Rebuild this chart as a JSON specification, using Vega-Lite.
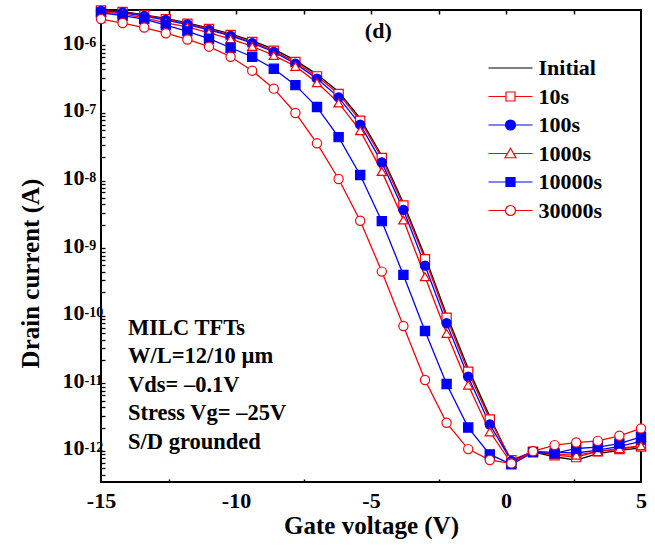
{
  "$schema": "https://vega.github.io/schema/vega-lite/v6.json",
  "autosize": {"type": "none"},
  "padding": {"left": 101, "top": 10, "right": 14, "bottom": 65},
  "width": 540,
  "height": 472,
  "background": "white",
  "config": {
    "view": {"stroke": "black", "strokeWidth": 2},
    "axis": {"domain": false, "grid": false, "labelFont": "Liberation Serif", "labelFontWeight": "bold", "labelColor": "black", "titleFont": "Liberation Serif", "titleFontWeight": "bold", "titleColor": "black", "labelFlush": false, "labelOverlap": false}
  },
  "datasets": {
    "d": [
      {"s":"Initial","v":-15,"i":3.0e-6},{"s":"Initial","v":-14.2,"i":2.85e-6},{"s":"Initial","v":-13.4,"i":2.55e-6},{"s":"Initial","v":-12.6,"i":2.25e-6},{"s":"Initial","v":-11.8,"i":1.93e-6},{"s":"Initial","v":-11,"i":1.62e-6},{"s":"Initial","v":-10.2,"i":1.33e-6},{"s":"Initial","v":-9.4,"i":1.05e-6},{"s":"Initial","v":-8.6,"i":7.9e-7},{"s":"Initial","v":-7.8,"i":5.4e-7},{"s":"Initial","v":-7,"i":3.35e-7},{"s":"Initial","v":-6.2,"i":1.85e-7},{"s":"Initial","v":-5.4,"i":7.5e-8},{"s":"Initial","v":-4.6,"i":2.1e-8},{"s":"Initial","v":-3.8,"i":4.2e-9},{"s":"Initial","v":-3,"i":6.8e-10},{"s":"Initial","v":-2.2,"i":9.3e-11},{"s":"Initial","v":-1.4,"i":1.5e-11},{"s":"Initial","v":-0.6,"i":2.9e-12},{"s":"Initial","v":0.2,"i":6.1e-13},{"s":"Initial","v":1,"i":8.7e-13},{"s":"Initial","v":1.8,"i":7.4e-13},{"s":"Initial","v":2.6,"i":6.6e-13},{"s":"Initial","v":3.4,"i":8.2e-13},{"s":"Initial","v":4.2,"i":9.2e-13},{"s":"Initial","v":5,"i":1.0e-12},
      {"s":"10s","v":-15,"i":2.95e-6},{"s":"10s","v":-14.2,"i":2.8e-6},{"s":"10s","v":-13.4,"i":2.5e-6},{"s":"10s","v":-12.6,"i":2.2e-6},{"s":"10s","v":-11.8,"i":1.88e-6},{"s":"10s","v":-11,"i":1.57e-6},{"s":"10s","v":-10.2,"i":1.28e-6},{"s":"10s","v":-9.4,"i":1.01e-6},{"s":"10s","v":-8.6,"i":7.5e-7},{"s":"10s","v":-7.8,"i":5.1e-7},{"s":"10s","v":-7,"i":3.13e-7},{"s":"10s","v":-6.2,"i":1.72e-7},{"s":"10s","v":-5.4,"i":6.92e-8},{"s":"10s","v":-4.6,"i":1.94e-8},{"s":"10s","v":-3.8,"i":3.85e-9},{"s":"10s","v":-3,"i":6.18e-10},{"s":"10s","v":-2.2,"i":8.4e-11},{"s":"10s","v":-1.4,"i":1.34e-11},{"s":"10s","v":-0.6,"i":2.64e-12},{"s":"10s","v":0.2,"i":6.6e-13},{"s":"10s","v":1,"i":8.8e-13},{"s":"10s","v":1.8,"i":7.8e-13},{"s":"10s","v":2.6,"i":7.3e-13},{"s":"10s","v":3.4,"i":8.9e-13},{"s":"10s","v":4.2,"i":9.6e-13},{"s":"10s","v":5,"i":1.05e-12},
      {"s":"100s","v":-15,"i":2.9e-6},{"s":"100s","v":-14.2,"i":2.75e-6},{"s":"100s","v":-13.4,"i":2.44e-6},{"s":"100s","v":-12.6,"i":2.13e-6},{"s":"100s","v":-11.8,"i":1.83e-6},{"s":"100s","v":-11,"i":1.52e-6},{"s":"100s","v":-10.2,"i":1.24e-6},{"s":"100s","v":-9.4,"i":9.7e-7},{"s":"100s","v":-8.6,"i":7.2e-7},{"s":"100s","v":-7.8,"i":4.83e-7},{"s":"100s","v":-7,"i":2.9e-7},{"s":"100s","v":-6.2,"i":1.53e-7},{"s":"100s","v":-5.4,"i":6.04e-8},{"s":"100s","v":-4.6,"i":1.67e-8},{"s":"100s","v":-3.8,"i":3.32e-9},{"s":"100s","v":-3,"i":4.97e-10},{"s":"100s","v":-2.2,"i":6.97e-11},{"s":"100s","v":-1.4,"i":1.13e-11},{"s":"100s","v":-0.6,"i":2.22e-12},{"s":"100s","v":0.2,"i":6.4e-13},{"s":"100s","v":1,"i":8.9e-13},{"s":"100s","v":1.8,"i":8.6e-13},{"s":"100s","v":2.6,"i":8.4e-13},{"s":"100s","v":3.4,"i":9.3e-13},{"s":"100s","v":4.2,"i":1.05e-12},{"s":"100s","v":5,"i":1.25e-12},
      {"s":"1000s","v":-15,"i":2.82e-6},{"s":"1000s","v":-14.2,"i":2.63e-6},{"s":"1000s","v":-13.4,"i":2.3e-6},{"s":"1000s","v":-12.6,"i":1.94e-6},{"s":"1000s","v":-11.8,"i":1.69e-6},{"s":"1000s","v":-11,"i":1.38e-6},{"s":"1000s","v":-10.2,"i":1.12e-6},{"s":"1000s","v":-9.4,"i":8.7e-7},{"s":"1000s","v":-8.6,"i":6.4e-7},{"s":"1000s","v":-7.8,"i":4.41e-7},{"s":"1000s","v":-7,"i":2.53e-7},{"s":"1000s","v":-6.2,"i":1.27e-7},{"s":"1000s","v":-5.4,"i":4.92e-8},{"s":"1000s","v":-4.6,"i":1.23e-8},{"s":"1000s","v":-3.8,"i":2.36e-9},{"s":"1000s","v":-3,"i":3.41e-10},{"s":"1000s","v":-2.2,"i":4.95e-11},{"s":"1000s","v":-1.4,"i":8.5e-12},{"s":"1000s","v":-0.6,"i":1.73e-12},{"s":"1000s","v":0.2,"i":5.9e-13},{"s":"1000s","v":1,"i":8.9e-13},{"s":"1000s","v":1.8,"i":8.0e-13},{"s":"1000s","v":2.6,"i":7.8e-13},{"s":"1000s","v":3.4,"i":8.8e-13},{"s":"1000s","v":4.2,"i":9.8e-13},{"s":"1000s","v":5,"i":1.08e-12},
      {"s":"10000s","v":-15,"i":2.73e-6},{"s":"10000s","v":-14.2,"i":2.47e-6},{"s":"10000s","v":-13.4,"i":2.2e-6},{"s":"10000s","v":-12.6,"i":1.79e-6},{"s":"10000s","v":-11.8,"i":1.45e-6},{"s":"10000s","v":-11,"i":1.13e-6},{"s":"10000s","v":-10.2,"i":8.3e-7},{"s":"10000s","v":-9.4,"i":6.1e-7},{"s":"10000s","v":-8.6,"i":4.05e-7},{"s":"10000s","v":-7.8,"i":2.32e-7},{"s":"10000s","v":-7,"i":1.1e-7},{"s":"10000s","v":-6.2,"i":3.95e-8},{"s":"10000s","v":-5.4,"i":1.09e-8},{"s":"10000s","v":-4.6,"i":2.26e-9},{"s":"10000s","v":-3.8,"i":3.62e-10},{"s":"10000s","v":-3,"i":5.36e-11},{"s":"10000s","v":-2.2,"i":8.8e-12},{"s":"10000s","v":-1.4,"i":2.0e-12},{"s":"10000s","v":-0.6,"i":8.0e-13},{"s":"10000s","v":0.2,"i":5.7e-13},{"s":"10000s","v":1,"i":8.6e-13},{"s":"10000s","v":1.8,"i":8.3e-13},{"s":"10000s","v":2.6,"i":9.8e-13},{"s":"10000s","v":3.4,"i":1.03e-12},{"s":"10000s","v":4.2,"i":1.16e-12},{"s":"10000s","v":5,"i":1.46e-12},
      {"s":"30000s","v":-15,"i":2.2e-6},{"s":"30000s","v":-14.2,"i":1.92e-6},{"s":"30000s","v":-13.4,"i":1.65e-6},{"s":"30000s","v":-12.6,"i":1.36e-6},{"s":"30000s","v":-11.8,"i":1.1e-6},{"s":"30000s","v":-11,"i":8.6e-7},{"s":"30000s","v":-10.2,"i":6.1e-7},{"s":"30000s","v":-9.4,"i":3.8e-7},{"s":"30000s","v":-8.6,"i":2.06e-7},{"s":"30000s","v":-7.8,"i":9.0e-8},{"s":"30000s","v":-7,"i":3.2e-8},{"s":"30000s","v":-6.2,"i":9.5e-9},{"s":"30000s","v":-5.4,"i":2.29e-9},{"s":"30000s","v":-4.6,"i":4.05e-10},{"s":"30000s","v":-3.8,"i":6.35e-11},{"s":"30000s","v":-3,"i":1.01e-11},{"s":"30000s","v":-2.2,"i":2.35e-12},{"s":"30000s","v":-1.4,"i":9.6e-13},{"s":"30000s","v":-0.6,"i":6.6e-13},{"s":"30000s","v":0.2,"i":5.9e-13},{"s":"30000s","v":1,"i":8.9e-13},{"s":"30000s","v":1.8,"i":1.1e-12},{"s":"30000s","v":2.6,"i":1.2e-12},{"s":"30000s","v":3.4,"i":1.27e-12},{"s":"30000s","v":4.2,"i":1.51e-12},{"s":"30000s","v":5,"i":1.94e-12}
    ]
  },
  "data": {"name": "d"},
  "resolve": {"axis": {"x": "independent", "y": "independent"}},
  "layer": [
    {
      "mark": {"type": "line", "strokeWidth": 1.3},
      "encoding": {
        "x": {"field": "v", "type": "quantitative", "scale": {"domain": [-15, 5], "nice": false, "zero": false},
          "axis": {"orient": "bottom", "values": [-15, -10, -5, 0, 5], "tickSize": 0, "tickColor": "transparent", "labelExpr": "'' + datum.value", "labelPadding": 8, "labelFontSize": 22, "title": "Gate voltage (V)", "titleFontSize": 25, "titleY": 43, "titleBaseline": "middle"}},
        "y": {"field": "i", "type": "quantitative", "scale": {"type": "log", "domain": [3.13e-13, 3e-6], "nice": false},
          "axis": {"orient": "left", "values": [1e-12, 1e-11, 1e-10, 1e-9, 1e-8, 1e-7, 1e-6], "tickSize": 0, "tickColor": "transparent", "labelExpr": "'10'", "labelPadding": 17, "labelFontSize": 22, "labelBaseline": "middle", "title": "Drain current (A)", "titleFontSize": 25, "titleX": -71, "titleY": 263, "titleBaseline": "middle", "titleAngle": -90}},
        "color": {"field": "s", "type": "nominal",
          "scale": {"domain": ["Initial", "10s", "100s", "1000s", "10000s", "30000s"], "range": ["#000000", "#ff0000", "#0000ff", "#ff0000", "#0000ff", "#ff0000"]},
          "legend": {"orient": "none", "legendX": 387, "legendY": 47, "title": null, "padding": 0, "labelFont": "Liberation Serif", "labelFontWeight": "bold", "labelFontSize": 22, "labelColor": "black", "symbolSize": 100, "symbolStrokeWidth": 1.2, "symbolOffset": 11.5, "labelOffset": 17, "rowPadding": 6.5,
            "encode": {"symbols": {"update": {
              "shape": {"signal": "datum.value==='Initial'?'M-4.4,0H4.4':datum.value==='10s'?'M-4.4,0H-0.9M0.9,0H4.4M-0.9,-0.9H0.9V0.9H-0.9Z':datum.value==='100s'?'M-4.4,0H4.4M1,0A1,1,0,1,1,-1,0A1,1,0,1,1,1,0Z':datum.value==='1000s'?'M-4.4,0H-0.55M0.55,0H4.4M0,-1.05L1.1,0.85L-1.1,0.85Z':datum.value==='10000s'?'M-4.4,0H4.4M-0.9,-0.9H0.9V0.9H-0.9Z':'M-4.4,0H-1M1,0H4.4M1,0A1,1,0,1,1,-1,0A1,1,0,1,1,1,0Z'"},
              "fill": {"signal": "datum.value==='100s'||datum.value==='10000s'?'#0000ff':datum.value==='Initial'?'transparent':'#ffffff'"}
            }}}}
        }
      }
    },
    {
      "transform": [{"filter": "datum.s !== 'Initial'"}],
      "mark": {"type": "point", "filled": true, "size": 85, "strokeWidth": 1.2, "opacity": 1},
      "encoding": {
        "x": {"field": "v", "type": "quantitative",
          "axis": {"orient": "top", "values": [-12.5, -10, -7.5, -5, -2.5, 0, 2.5], "labels": false, "tickSize": -4, "tickWidth": 1.5, "tickColor": "black", "title": null}},
        "y": {"field": "i", "type": "quantitative",
          "axis": {"orient": "left", "values": [4e-13, 5e-13, 6e-13, 7e-13, 8e-13, 9e-13, 2e-12, 3e-12, 4e-12, 5e-12, 6e-12, 7e-12, 8e-12, 9e-12, 2e-11, 3e-11, 4e-11, 5e-11, 6e-11, 7e-11, 8e-11, 9e-11, 2e-10, 3e-10, 4e-10, 5e-10, 6e-10, 7e-10, 8e-10, 9e-10, 2e-9, 3e-9, 4e-9, 5e-9, 6e-9, 7e-9, 8e-9, 9e-9, 2e-8, 3e-8, 4e-8, 5e-8, 6e-8, 7e-8, 8e-8, 9e-8, 2e-7, 3e-7, 4e-7, 5e-7, 6e-7, 7e-7, 8e-7, 9e-7, 2e-6], "labels": false, "tickSize": -4, "tickWidth": 1.3, "tickColor": "black", "title": null}},
        "shape": {"field": "s", "type": "nominal", "scale": {"domain": ["10s", "100s", "1000s", "10000s", "30000s"], "range": ["square", "circle", "triangle-up", "square", "circle"]}, "legend": null},
        "fill": {"field": "s", "type": "nominal", "scale": {"domain": ["10s", "100s", "1000s", "10000s", "30000s"], "range": ["#ffffff", "#0000ff", "#ffffff", "#0000ff", "#ffffff"]}, "legend": null},
        "stroke": {"field": "s", "type": "nominal", "scale": {"domain": ["10s", "100s", "1000s", "10000s", "30000s"], "range": ["#ff0000", "#0000ff", "#ff0000", "#0000ff", "#ff0000"]}, "legend": null}
      }
    },
    {
      "data": {"values": [{}]},
      "mark": {"type": "text", "align": "left", "baseline": "alphabetic", "font": "Liberation Serif", "fontWeight": "bold", "fontSize": 22.5, "lineHeight": 28.4, "color": "black"},
      "encoding": {
        "x": {"datum": -14, "type": "quantitative",
          "axis": {"orient": "bottom", "values": [-12.5, -7.5, -2.5, 2.5], "labels": false, "tickSize": -3, "tickWidth": 1.5, "tickColor": "black", "title": null}},
        "y": {"datum": 4.68e-11, "type": "quantitative",
          "axis": {"orient": "left", "values": [1e-12, 1e-11, 1e-10, 1e-9, 1e-8, 1e-7, 1e-6], "tickSize": 0, "tickColor": "transparent", "labelExpr": "'-' + (-round(log(datum.value)/LN10))", "labelAlign": "left", "labelPadding": 17, "labelFontSize": 14, "labelDy": -10, "title": null}},
        "text": {"value": ["MILC TFTs", "W/L=12/10 µm", "Vds= –0.1V", "Stress Vg= –25V", "S/D grounded"]}
      }
    },
    {
      "data": {"values": [{}]},
      "mark": {"type": "text", "align": "center", "baseline": "middle", "font": "Liberation Serif", "fontWeight": "bold", "fontSize": 22, "color": "black"},
      "encoding": {
        "x": {"datum": -4.73, "type": "quantitative", "axis": null},
        "y": {"datum": 1.47e-6, "type": "quantitative", "axis": null},
        "text": {"value": "(d)"}
      }
    }
  ]
}
